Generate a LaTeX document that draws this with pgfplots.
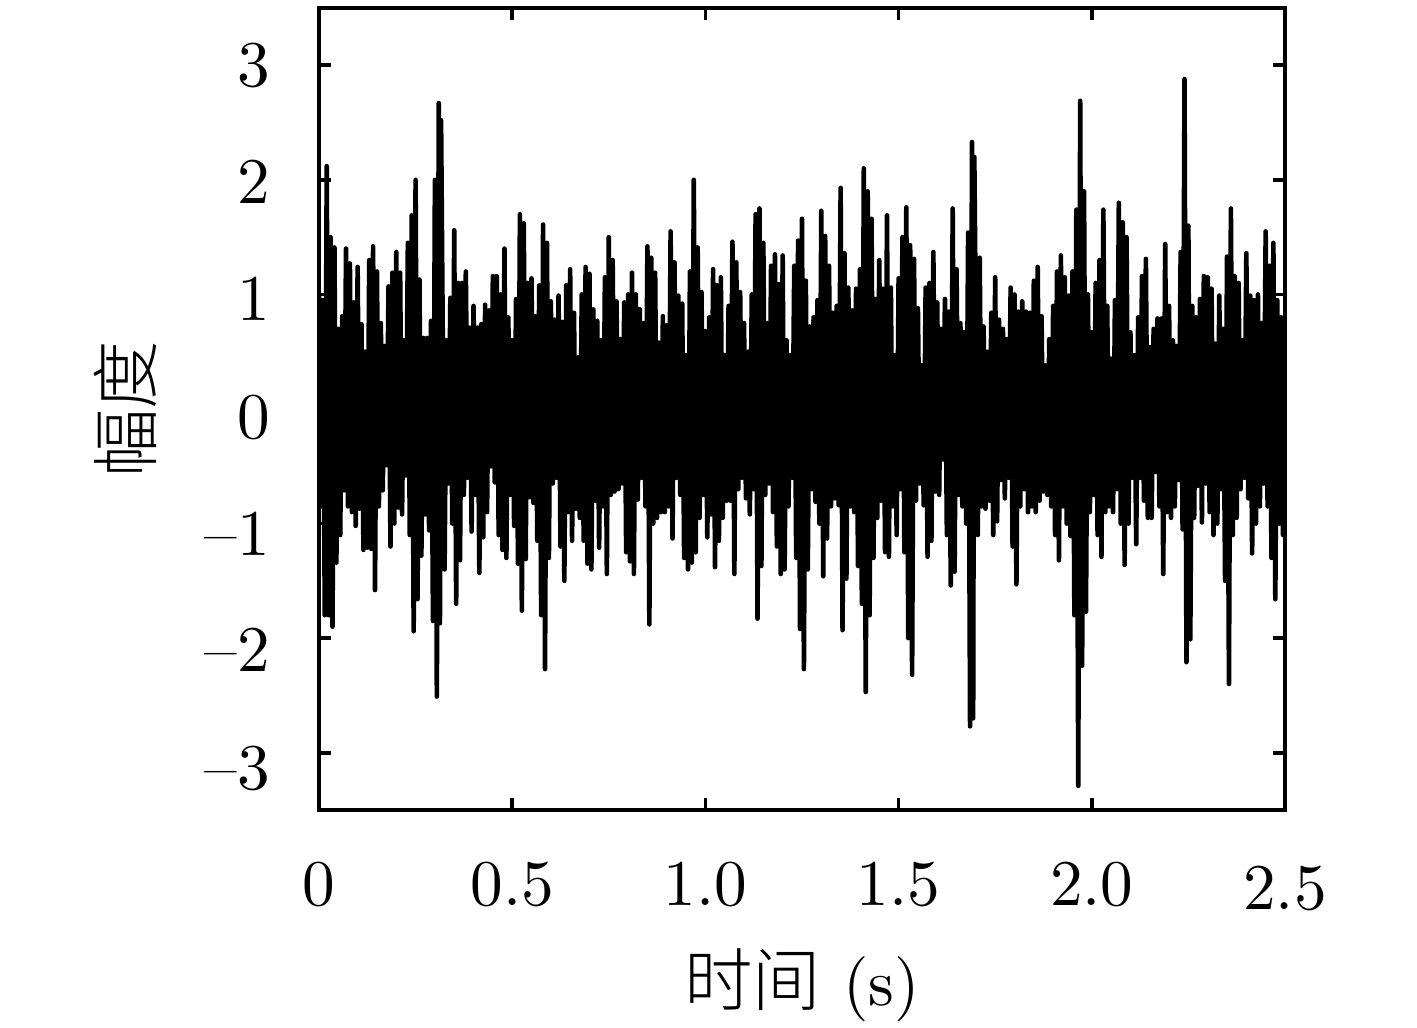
\documentclass[border=0pt]{standalone}
\usepackage{fontspec}
\usepackage{pgfplots}
\pgfplotsset{compat=1.18}
\setmainfont{lmroman10-regular.otf}
\newfontfamily\cjk[Scale=1.05]{Noto Sans CJK SC Light}
\newcommand{\lab}{\fontsize{16.3}{20}\selectfont}
\newcommand{\dn}[2]{\raisebox{-#1}[\height][\depth]{#2}}
\begin{document}
\begin{tikzpicture}
\useasboundingbox (-79.75pt,-54.5pt) rectangle (274.5pt,202.5pt);
\begin{axis}[
    scale only axis,
    width=241.5pt,
    height=200.5pt,
    xmin=0, xmax=2.5,
    ymin=-3.5, ymax=3.5,
    xtick={0,0.5,1,1.5,2,2.5},
    xticklabels={0,0.5,1.0,1.5,2.0,\dn{0.9pt}{2.5}},
    ytick={-3,-2,-1,0,1,2,3},
    yticklabels={\dn{4pt}{–3},\dn{3pt}{–2},\dn{2.5pt}{–1},\dn{2.2pt}{0},\dn{1pt}{1},\dn{0.5pt}{2},3},
    tick align=inside,
    major tick length=3pt,
    every tick/.style={black,line width=0.9pt},
    axis line style={line width=1pt},
    tick label style={font=\lab},
    xticklabel style={yshift=-9.5pt},
    yticklabel style={xshift=-8.8pt},
    xlabel={{\cjk 时间} (s)},
    ylabel={\cjk 幅度},
    label style={font=\lab},
    xlabel style={at={(axis description cs:0.5,0)},anchor=center,yshift=-43.7pt},
    ylabel style={at={(axis description cs:0,0.5)},anchor=center,yshift=48.5pt},
]
\addplot[black,line width=1.15pt,line cap=round,line join=round] coordinates {
(0.000,1.00)(0.005,-0.85)(0.010,0.95)(0.015,-1.80)(0.020,2.12)(0.025,-1.80)(0.030,1.50)(0.035,-1.90)(0.040,1.41)(0.045,-1.34)
(0.050,0.70)(0.055,-1.10)(0.060,0.81)(0.065,-0.71)(0.070,1.40)(0.075,-0.85)(0.080,1.27)(0.085,-0.90)(0.090,0.93)(0.095,-1.02)
(0.100,1.24)(0.105,-0.87)(0.110,0.74)(0.115,-1.23)(0.120,0.50)(0.125,-1.21)(0.130,1.30)(0.135,-1.22)(0.140,1.42)(0.145,-1.58)
(0.150,1.20)(0.155,-0.85)(0.160,0.75)(0.165,-0.71)(0.170,0.55)(0.175,-0.49)(0.180,1.07)(0.185,-1.20)(0.190,1.19)(0.195,-1.00)
(0.200,1.37)(0.205,-0.86)(0.210,1.19)(0.215,-0.92)(0.220,0.60)(0.225,-0.58)(0.230,1.45)(0.235,-1.10)(0.240,1.69)(0.245,-1.94)
(0.250,2.00)(0.255,-1.66)(0.260,1.13)(0.265,-1.28)(0.270,0.62)(0.275,-0.92)(0.280,0.62)(0.285,-1.06)(0.290,0.77)(0.295,-1.85)
(0.300,2.00)(0.305,-2.51)(0.310,2.67)(0.313,-1.87)(0.316,2.52)(0.325,-1.40)(0.330,0.60)(0.335,-0.65)(0.340,0.97)(0.345,-1.00)
(0.350,1.56)(0.355,-1.70)(0.360,1.10)(0.365,-1.32)(0.370,1.10)(0.375,-0.75)(0.380,1.20)(0.385,-0.60)(0.390,0.71)(0.395,-1.07)
(0.400,0.90)(0.405,-0.75)(0.410,0.71)(0.415,-1.43)(0.420,0.74)(0.425,-1.12)(0.430,0.91)(0.435,-0.90)(0.440,0.86)(0.445,-0.50)
(0.450,1.16)(0.455,-0.64)(0.460,1.16)(0.465,-1.10)(0.470,1.00)(0.475,-1.23)(0.480,1.40)(0.485,-1.30)(0.490,0.80)(0.495,-0.75)
(0.500,0.60)(0.505,-1.02)(0.510,0.96)(0.515,-1.35)(0.520,1.70)(0.525,-1.76)(0.530,1.62)(0.535,-1.31)(0.540,1.10)(0.545,-0.77)
(0.550,1.14)(0.555,-0.82)(0.560,0.81)(0.565,-1.15)(0.570,1.08)(0.575,-1.80)(0.580,1.61)(0.585,-2.27)(0.590,1.45)(0.595,-1.30)
(0.600,0.94)(0.605,-0.65)(0.610,0.78)(0.615,-0.60)(0.620,0.99)(0.625,-1.20)(0.630,0.76)(0.635,-1.50)(0.640,1.08)(0.645,-0.90)
(0.650,1.22)(0.655,-1.15)(0.660,0.84)(0.665,-0.87)(0.670,0.45)(0.675,-0.95)(0.680,1.00)(0.685,-1.15)(0.690,1.24)(0.695,-1.35)
(0.700,1.18)(0.705,-1.40)(0.710,0.87)(0.715,-0.80)(0.720,0.77)(0.725,-1.21)(0.730,0.60)(0.735,-0.85)(0.740,1.15)(0.745,-1.44)
(0.750,1.50)(0.755,-0.75)(0.760,1.30)(0.765,-0.72)(0.770,0.94)(0.775,-0.70)(0.780,0.61)(0.785,-0.65)(0.790,0.93)(0.795,-1.25)
(0.800,1.00)(0.805,-1.33)(0.810,1.19)(0.815,-1.44)(0.820,1.00)(0.825,-0.79)(0.830,0.87)(0.835,-0.60)(0.840,0.75)(0.845,-0.85)
(0.850,1.42)(0.855,-1.88)(0.860,1.32)(0.865,-1.00)(0.870,1.19)(0.875,-0.95)(0.880,0.58)(0.885,-0.90)(0.890,0.81)(0.895,-0.90)
(0.900,0.73)(0.905,-0.85)(0.910,1.55)(0.915,-1.13)(0.920,1.28)(0.925,-0.60)(0.930,0.99)(0.935,-0.75)(0.940,0.92)(0.945,-1.30)
(0.950,0.47)(0.955,-1.40)(0.960,1.20)(0.965,-1.34)(0.970,2.00)(0.975,-1.25)(0.980,1.41)(0.985,-0.95)(0.990,1.02)(0.995,-0.75)
(1.000,0.68)(1.005,-1.12)(1.010,0.80)(1.015,-0.92)(1.020,1.22)(1.025,-1.38)(1.030,1.08)(1.035,-1.15)(1.040,1.15)(1.045,-0.95)
(1.050,0.47)(1.055,-0.80)(1.060,0.90)(1.065,-0.80)(1.070,1.46)(1.075,-1.44)(1.080,1.28)(1.085,-0.70)(1.090,1.02)(1.095,-0.60)
(1.100,0.75)(1.105,-0.78)(1.110,0.50)(1.115,-0.92)(1.120,1.00)(1.125,-0.70)(1.130,1.70)(1.135,-1.83)(1.140,1.75)(1.145,-1.37)
(1.150,1.45)(1.155,-0.75)(1.160,0.75)(1.165,-0.65)(1.170,1.25)(1.175,-0.90)(1.180,1.35)(1.185,-1.20)(1.190,1.09)(1.195,-1.44)
(1.200,1.34)(1.205,-1.40)(1.210,0.60)(1.215,-0.85)(1.220,0.47)(1.225,-0.60)(1.230,1.25)(1.235,-1.30)(1.240,1.47)(1.245,-1.92)
(1.250,1.66)(1.255,-2.27)(1.260,1.12)(1.265,-1.40)(1.270,0.72)(1.275,-0.70)(1.280,0.80)(1.285,-0.81)(1.290,0.95)(1.295,-1.00)
(1.300,1.73)(1.305,-1.46)(1.310,1.51)(1.315,-1.13)(1.320,1.25)(1.325,-0.85)(1.330,0.84)(1.335,-0.78)(1.340,0.90)(1.345,-0.84)
(1.350,1.93)(1.355,-1.93)(1.360,1.36)(1.365,-1.48)(1.370,1.06)(1.375,-0.85)(1.380,0.86)(1.385,-0.90)(1.390,1.05)(1.395,-1.37)
(1.400,1.22)(1.405,-1.70)(1.410,2.10)(1.415,-2.47)(1.420,1.90)(1.425,-1.80)(1.430,1.66)(1.435,-1.30)(1.440,0.96)(1.445,-0.95)
(1.450,1.30)(1.455,-0.80)(1.460,1.05)(1.465,-1.25)(1.470,1.69)(1.475,-1.29)(1.480,1.06)(1.485,-0.85)(1.490,0.47)(1.495,-1.10)
(1.500,1.14)(1.505,-0.70)(1.510,1.50)(1.515,-1.25)(1.520,1.76)(1.525,-2.00)(1.530,1.43)(1.535,-2.32)(1.540,1.31)(1.545,-0.80)
(1.550,0.88)(1.555,-0.65)(1.560,0.38)(1.565,-0.84)(1.570,1.06)(1.575,-1.29)(1.580,1.10)(1.585,-1.15)(1.590,1.37)(1.595,-0.72)
(1.600,0.93)(1.605,-0.75)(1.610,0.70)(1.615,-0.44)(1.620,0.96)(1.625,-1.10)(1.630,0.85)(1.635,-1.54)(1.640,1.75)(1.645,-1.42)
(1.650,1.22)(1.655,-0.75)(1.660,0.75)(1.665,-0.85)(1.670,0.67)(1.675,-1.00)(1.680,1.54)(1.685,-2.77)(1.690,2.33)(1.693,-2.70)(1.696,2.20)
(1.705,-1.10)(1.710,1.32)(1.715,-0.85)(1.720,0.72)(1.725,-0.87)(1.730,0.50)(1.735,-0.80)(1.740,0.84)(1.745,-1.10)
(1.750,1.15)(1.755,-0.98)(1.760,0.78)(1.765,-0.62)(1.770,0.70)(1.775,-0.78)(1.780,0.61)(1.785,-0.60)(1.790,1.06)(1.795,-1.20)
(1.800,1.00)(1.805,-1.53)(1.810,0.85)(1.815,-0.85)(1.820,0.94)(1.825,-0.70)(1.830,0.85)(1.835,-0.90)(1.840,0.84)(1.845,-0.85)
(1.850,1.12)(1.855,-0.90)(1.860,1.24)(1.865,-0.80)(1.870,0.81)(1.875,-0.72)(1.880,0.38)(1.885,-0.75)(1.890,0.61)(1.895,-0.85)
(1.900,0.90)(1.905,-1.10)(1.910,1.20)(1.915,-1.32)(1.920,1.34)(1.925,-0.85)(1.930,1.15)(1.935,-1.00)(1.940,0.99)(1.945,-1.11)
(1.950,1.20)(1.955,-1.80)(1.960,1.74)(1.965,-3.29)(1.970,2.69)(1.975,-2.24)(1.980,1.90)(1.985,-1.77)(1.990,1.00)(1.995,-0.90)
(2.000,0.67)(2.005,-0.75)(2.010,1.10)(2.015,-1.10)(2.020,1.30)(2.025,-1.29)(2.030,1.74)(2.035,-0.90)(2.040,0.90)(2.045,-0.85)
(2.050,0.44)(2.055,-0.90)(2.060,0.95)(2.065,-0.70)(2.070,1.80)(2.075,-1.00)(2.080,1.63)(2.085,-1.36)(2.090,1.50)(2.095,-1.00)
(2.100,0.67)(2.105,-0.60)(2.110,0.47)(2.115,-1.18)(2.120,0.80)(2.125,-0.60)(2.130,1.16)(2.135,-0.80)(2.140,1.31)(2.145,-0.95)
(2.150,0.54)(2.155,-0.95)(2.160,0.70)(2.165,-0.55)(2.170,0.79)(2.175,-0.85)(2.180,0.79)(2.185,-1.44)(2.190,1.44)(2.195,-0.90)
(2.200,0.90)(2.205,-0.95)(2.210,0.60)(2.215,-0.85)(2.220,0.55)(2.225,-0.62)(2.230,1.37)(2.235,-1.05)(2.240,2.88)(2.245,-2.21)
(2.250,1.60)(2.255,-2.01)(2.260,0.90)(2.265,-0.95)(2.270,0.80)(2.275,-0.67)(2.280,0.96)(2.285,-0.99)(2.290,1.16)(2.295,-0.65)
(2.300,1.15)(2.305,-0.90)(2.310,1.05)(2.315,-1.10)(2.320,0.57)(2.325,-1.00)(2.330,0.99)(2.335,-0.70)(2.340,0.70)(2.345,-1.50)
(2.350,1.33)(2.355,-2.40)(2.360,1.75)(2.365,-1.10)(2.370,1.16)(2.375,-0.95)(2.380,1.10)(2.385,-0.70)(2.390,0.60)(2.395,-0.60)
(2.400,1.36)(2.405,-0.78)(2.410,0.99)(2.415,-1.26)(2.420,0.95)(2.425,-1.00)(2.430,1.00)(2.435,-0.85)(2.440,0.75)(2.445,-0.65)
(2.450,1.55)(2.455,-0.85)(2.460,1.25)(2.465,-1.30)(2.470,1.45)(2.475,-1.66)(2.480,0.95)(2.485,-1.00)(2.490,0.80)(2.495,-1.10)
(2.500,0.80)
};
\end{axis}
\end{tikzpicture}
\end{document}
